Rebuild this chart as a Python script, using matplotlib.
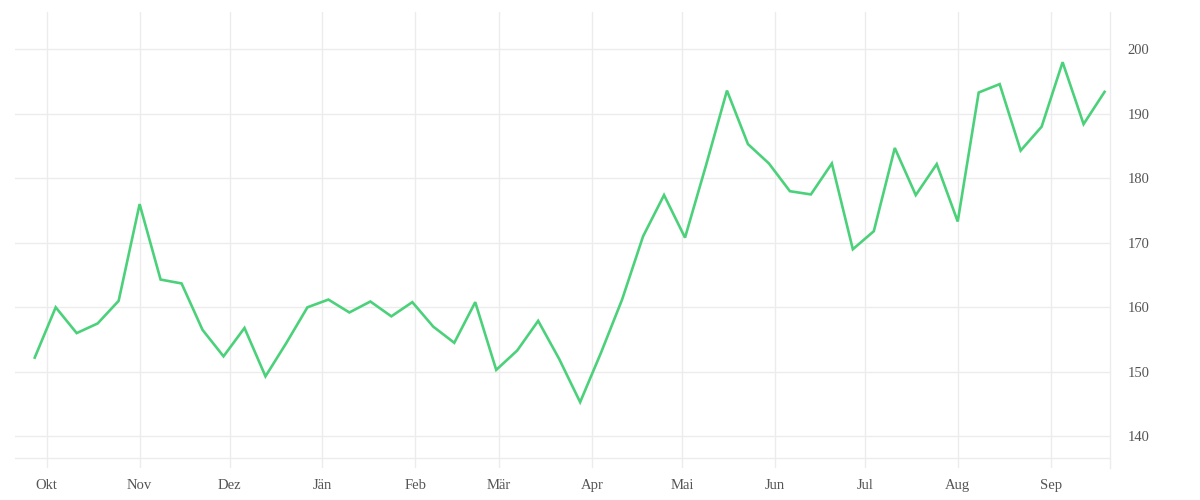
import pandas as pd
import numpy as np
import matplotlib.pyplot as plt
import matplotlib.dates as mdates

# DATA (weekly values)
start_date = "2022-09-27"
values = [
    152.2, 160.0, 156.0, 157.5, 161.0, 176.0, 164.3, 163.7, 156.5, 152.4,
    156.8, 149.3, 154.5, 160.0, 161.2, 159.2, 160.9, 158.6, 160.8, 157.0,
    154.5, 160.8, 150.3, 153.3, 157.9, 152.0, 145.3, 153.0, 161.2, 171.0,
    177.4, 170.8, 182.0, 193.6, 185.3, 182.3, 178.0, 177.5, 182.3, 169.0,
    171.8, 184.7, 177.4, 182.2, 173.3, 193.3, 194.6, 184.3, 188.0, 198.0,
    188.4, 193.4,
]
month_labels = ["Okt", "Nov", "Dez", "Jän", "Feb", "Mär",
                "Apr", "Mai", "Jun", "Jul", "Aug", "Sep"]
y_ticks = [140, 150, 160, 170, 180, 190, 200]

dates = pd.date_range(start_date, periods=len(values), freq="7D")
month_starts = pd.date_range("2022-10-01", periods=12, freq="MS")

grid_color = "#ececec"
text_color = "#555555"

plt.rcParams["font.family"] = ["Liberation Serif", "DejaVu Serif"]

fig = plt.figure(figsize=(12, 5), dpi=100)
ax = fig.add_axes([15 / 1200, 1 - 468 / 500, (1110.3 - 15) / 1200, (468 - 12) / 500])

ax.plot(dates, values, color="#4cd17b", linewidth=1.9, solid_joinstyle="miter")

# axes ranges
ax.set_xlim(pd.Timestamp("2022-09-20 10:00"), pd.Timestamp("2023-09-20 22:00"))
ax.set_ylim(135.09, 205.78)

# grid
ax.set_xticks(month_starts)
ax.set_xticklabels(month_labels)
ax.set_yticks(y_ticks)
ax.grid(True, color=grid_color, linewidth=1)
ax.set_axisbelow(True)
ax.axhline(136.59, color=grid_color, linewidth=1, zorder=0)

# y axis on the right
ax.yaxis.tick_right()
for side in ["top", "left", "bottom"]:
    ax.spines[side].set_visible(False)
ax.spines["right"].set_color(grid_color)
ax.spines["right"].set_linewidth(1)

ax.tick_params(axis="both", length=0, labelsize=10.5, colors=text_color)
ax.tick_params(axis="y", pad=12.5)
ax.tick_params(axis="x", pad=8)

fig.savefig("out.png", dpi=100)
